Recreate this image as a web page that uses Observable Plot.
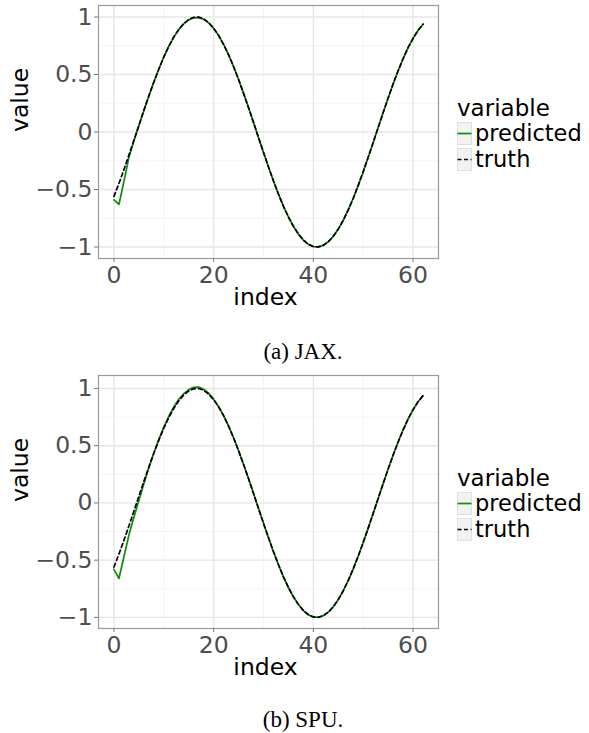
<!DOCTYPE html>
<html>
<head>
<meta charset="utf-8">
<script src="https://cdn.jsdelivr.net/npm/d3@7"></script>
<script src="https://cdn.jsdelivr.net/npm/@observablehq/plot@0.6"></script>
<style>
  html, body { margin: 0; padding: 0; background: #fff; }
  #page { position: relative; width: 589px; height: 733px; font-family: "DejaVu Sans", sans-serif; }
  .panel { position: absolute; left: 0; }
  .legend { position: absolute; left: 457px; font-size: 23px; color: #000; }
  .ltitle { height: 24px; line-height: 24px; }
  .row { display: flex; align-items: center; height: 26px; font-size: 22.5px; line-height: 22px; }
  .row svg { margin-right: 3px; }
  .caption { position: absolute; width: 240px; text-align: center; font-family: "Liberation Serif", "Times New Roman", serif; font-size: 23px; color: #000; }
</style>
</head>
<body>
<div id="page"></div>
<script>
// ---- data ----
const index = d3.range(63);
const truth = [
  -0.560, -0.447, -0.327, -0.201, -0.072, 0.058, 0.188, 0.314, 0.435, 0.548,
   0.653,  0.746,  0.826,  0.892,  0.943, 0.979, 0.997, 0.999, 0.983, 0.951,
   0.902,  0.839,  0.761,  0.670,  0.568, 0.456, 0.336, 0.211, 0.082, -0.049,
  -0.178, -0.305, -0.426, -0.540, -0.646, -0.739, -0.820, -0.888, -0.940, -0.977,
  -0.996, -0.999, -0.985, -0.954, -0.907, -0.844, -0.767, -0.677, -0.576, -0.464,
  -0.345, -0.220, -0.091,  0.039,  0.169, 0.296, 0.418, 0.532, 0.638, 0.733,
   0.815,  0.884,  0.937
];
const predictedJAX = [
  -0.590, -0.630, -0.430, -0.220, -0.078, 0.055, 0.186, 0.313, 0.434, 0.547,
   0.652,  0.745,  0.825,  0.890,  0.940, 0.975, 0.993, 0.995, 0.980, 0.949,
   0.901,  0.838,  0.761,  0.670,  0.568, 0.456, 0.336, 0.211, 0.082, -0.049,
  -0.178, -0.305, -0.426, -0.540, -0.646, -0.739, -0.820, -0.888, -0.940, -0.977,
  -0.996, -0.999, -0.985, -0.954, -0.907, -0.844, -0.767, -0.677, -0.576, -0.464,
  -0.345, -0.220, -0.091,  0.039,  0.169, 0.296, 0.418, 0.532, 0.638, 0.733,
   0.815,  0.884,  0.937
];
const predictedSPU = [
  -0.580, -0.660, -0.470, -0.280, -0.125, 0.020, 0.168, 0.305, 0.436, 0.555,
   0.662,  0.757,  0.838,  0.905,  0.955, 0.990, 1.010, 1.012, 0.993, 0.957,
   0.905,  0.840,  0.762,  0.671,  0.568, 0.456, 0.336, 0.211, 0.082, -0.049,
  -0.178, -0.305, -0.426, -0.540, -0.646, -0.739, -0.820, -0.888, -0.940, -0.977,
  -0.996, -0.999, -0.985, -0.954, -0.907, -0.844, -0.767, -0.677, -0.576, -0.464,
  -0.345, -0.220, -0.091,  0.039,  0.169, 0.296, 0.418, 0.532, 0.638, 0.733,
   0.815,  0.884,  0.937
];
const xTicks = [0, 20, 40, 60];
const xMinor = [10, 30, 50];
const yTicks = [-1, -0.5, 0, 0.5, 1];
const yMinor = [-0.75, -0.25, 0.25, 0.75];
const seriesNames = ["predicted", "truth"];
const legendTitle = "variable";
const captions = ["(a) JAX.", "(b) SPU."];

const GREEN = "#128a12";
const fmt = d => d < 0 ? "\u2212" + (-d) : String(d);

function panel(pred, yDomain) {
  return Plot.plot({
    width: 589, height: 315,
    marginTop: 5, marginBottom: 57, marginLeft: 98, marginRight: 151,
    x: { domain: [-3.1, 65.1] },
    y: { domain: yDomain },
    style: { fontFamily: "DejaVu Sans", background: "transparent", overflow: "visible" },
    marks: [
      Plot.gridX(xMinor, { stroke: "#f4f4f4", strokeOpacity: 1, strokeWidth: 1 }),
      Plot.gridY(yMinor, { stroke: "#f4f4f4", strokeOpacity: 1, strokeWidth: 1 }),
      Plot.gridX(xTicks, { stroke: "#e6e6e6", strokeOpacity: 1, strokeWidth: 1.4 }),
      Plot.gridY(yTicks, { stroke: "#e6e6e6", strokeOpacity: 1, strokeWidth: 1.4 }),
      Plot.line(index, { x: i => i, y: i => pred[i], stroke: GREEN, strokeWidth: 1.7 }),
      Plot.line(index, { x: i => i, y: i => truth[i], stroke: "#000", strokeWidth: 1.7, strokeDasharray: "4,3" }),
      Plot.frame({ stroke: "#9a9a9a", strokeWidth: 1.2 }),
      Plot.axisX(xTicks, { tickSize: 4, stroke: "#777", fill: "#4d4d4d", fontSize: 23.5, tickPadding: 4, label: null }),
      Plot.axisY(yTicks, { tickSize: 4, stroke: "#777", fill: "#4d4d4d", fontSize: 23.5, tickPadding: 2, tickFormat: fmt, label: null }),
      Plot.text(["value"], { text: d => d, frameAnchor: "left", dx: -78, rotate: -90, fontSize: 23.5, fill: "#000" }),
      Plot.text(["index"], { text: d => d, frameAnchor: "bottom", dy: 46, dx: -3, fontSize: 23.5, fill: "#000" })
    ]
  });
}

function keySvg(name) {
  const isPred = name === "predicted";
  return `<svg width="15" height="23" viewBox="0 0 15 23">
    <rect x="0.5" y="0.5" width="14" height="22" fill="#f2f2f2" stroke="#e0e0e0"/>
    <line x1="0.5" x2="14.5" y1="11.5" y2="11.5" stroke="${isPred ? GREEN : "#000"}" stroke-width="1.7" ${isPred ? "" : 'stroke-dasharray="4,2.5"'}/>
  </svg>`;
}

const page = document.getElementById("page");
const panels = [
  { pred: predictedJAX, dom: [-1.1, 1.1], top: 0, legendTop: 96, capTop: 339, cap: captions[0] },
  { pred: predictedSPU, dom: [-1.097, 1.113], top: 370, legendTop: 466, capTop: 707, cap: captions[1] }
];
for (const p of panels) {
  const wrap = document.createElement("div");
  wrap.className = "panel";
  wrap.style.top = p.top + "px";
  wrap.appendChild(panel(p.pred, p.dom));
  page.appendChild(wrap);

  const lg = document.createElement("div");
  lg.className = "legend";
  lg.style.top = p.legendTop + "px";
  lg.innerHTML = `<div class="ltitle">${legendTitle}</div>` +
    seriesNames.map(n => `<div class="row">${keySvg(n)}<span>${n}</span></div>`).join("");
  page.appendChild(lg);

  const cap = document.createElement("div");
  cap.className = "caption";
  cap.style.left = "183px";
  cap.style.top = p.capTop + "px";
  cap.textContent = p.cap;
  page.appendChild(cap);
}
</script>
</body>
</html>
